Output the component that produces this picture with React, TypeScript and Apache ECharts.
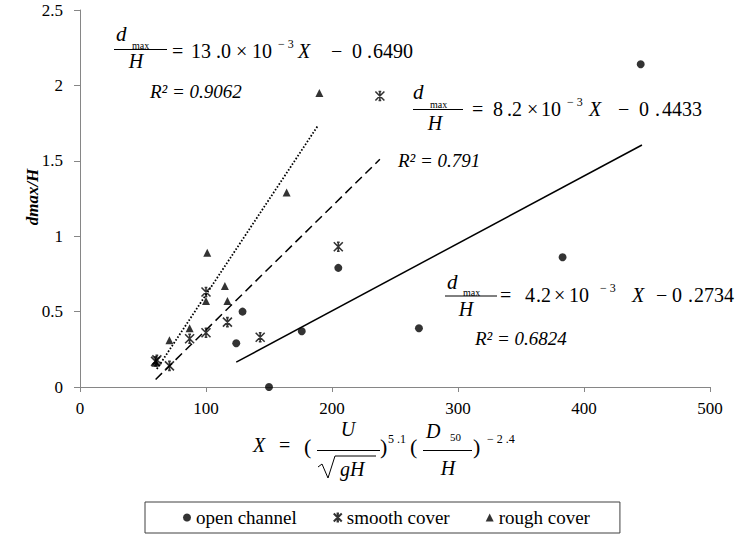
import React, { useEffect, useRef } from "react";
import * as echarts from "echarts";

// Measured points: X parameter vs. relative scour depth dmax/H
const openX = [124, 129, 150, 176, 205, 269, 383, 445];
const openY = [0.29, 0.5, 0.0, 0.37, 0.79, 0.39, 0.86, 2.14];

const smoothX = [60, 61, 71, 87, 100, 100, 117, 143, 205, 238];
const smoothY = [0.17, 0.18, 0.14, 0.32, 0.36, 0.63, 0.43, 0.33, 0.93, 1.93];

const roughX = [60, 71, 87, 100, 101, 115, 117, 164, 190];
const roughY = [0.16, 0.31, 0.39, 0.57, 0.89, 0.67, 0.57, 1.29, 1.95];

// Linear trend lines (end points over each data range)
const openFitX = [124, 446];
const openFitY = [0.165, 1.605];
const smoothFitX = [60, 238];
const smoothFitY = [0.05, 1.51];
const roughFitX = [61, 189];
const roughFitY = [0.12, 1.735];

const seriesNames = ["open channel", "smooth cover", "rough cover"];
const xTicks = { min: 0, max: 500, step: 100 };
const yTicks = { min: 0, max: 2.5, step: 0.5 };

const FONT = "Liberation Serif, Times New Roman, Times, serif";
const STAR = "path://M0,0L10,10M10,0L0,10M5,0L5,10M3.5,0L6.5,0M3.5,10L6.5,10";

const pairs = (xs: number[], ys: number[]) => xs.map((x, i) => [x, ys[i]]);

type TOpt = { italic?: boolean; bold?: boolean; align?: string; rot?: number };
const txt = (x: number, y: number, s: string, size: number, o: TOpt = {}) => ({
  type: "text",
  x,
  y,
  rotation: o.rot || 0,
  silent: true,
  style: {
    text: s,
    font: `${o.italic ? "italic " : ""}${o.bold ? "bold " : ""}${size}px ${FONT}`,
    fill: "#000",
    align: o.align || "left",
    verticalAlign: "middle",
    textAlign: o.align || "left",
    textVerticalAlign: "middle",
  },
});

const hline = (x1: number, x2: number, y: number) => ({
  type: "line",
  silent: true,
  shape: { x1, y1: y, x2, y2: y },
  style: { stroke: "#000", lineWidth: 1 },
});

// dmax/H = a × 10^-3 X − b, drawn as a stacked fraction
type EqPos = {
  dx: number; dy: number; subX: number; subY: number; barX1: number; barX2: number; barY: number;
  hX: number; hY: number; mainY: number; supY: number;
  xs: number[];
};
const equation = (p: EqPos, parts: string[]) => {
  const [eq, a1, a2, times, ten, sup, xv, minus, b1, b2, b3] = parts;
  const [xEq, xA1, xA2, xTimes, xTen, xSup, xX, xMinus, xB1, xB2, xB3] = p.xs;
  return [
    txt(p.dx, p.dy, "d", 21, { italic: true }),
    txt(p.subX, p.subY, "max", 10),
    hline(p.barX1, p.barX2, p.barY),
    txt(p.hX, p.hY, "H", 20, { italic: true, align: "center" }),
    txt(xEq, p.mainY, eq, 20),
    txt(xA1, p.mainY, a1, 20),
    txt(xA2, p.mainY, a2, 20),
    txt(xTimes, p.mainY, times, 20),
    txt(xTen, p.mainY, ten, 20),
    txt(xSup, p.supY, sup, 12),
    txt(xX, p.mainY, xv, 20, { italic: true }),
    txt(xMinus, p.mainY, minus, 20),
    txt(xB1, p.mainY, b1, 20),
    txt(xB2, p.mainY, b2, 20),
    txt(xB3, p.mainY, b3, 20),
  ];
};

const graphics = [
  // rough cover fit
  ...equation(
    { dx: 116, dy: 34, subX: 132, subY: 45, barX1: 114, barX2: 167, barY: 49.5, hX: 136, hY: 61, mainY: 51, supY: 44,
      xs: [172, 191, 216, 236, 252, 278, 298, 331, 352, 367, 373] },
    ["=", "13", ".0", "×", "10", "− 3", "X", "−", "0", ".", "6490"]
  ),
  txt(150, 91, "R² = 0.9062", 19, { italic: true }),
  // smooth cover fit
  ...equation(
    { dx: 413, dy: 92, subX: 430, subY: 104, barX1: 413, barX2: 463, barY: 109.5, hX: 435, hY: 123, mainY: 109, supY: 102,
      xs: [472, 493, 507, 527, 541, 567, 589, 618, 639, 655, 662] },
    ["=", "8", ".2", "×", "10", "− 3", "X", "−", "0", ".", "4433"]
  ),
  txt(398, 160, "R² = 0.791", 19, { italic: true }),
  // open channel fit
  ...equation(
    { dx: 447, dy: 282, subX: 463, subY: 292, barX1: 445, barX2: 497, barY: 296, hX: 466, hY: 309, mainY: 295, supY: 288,
      xs: [500, 525, 536, 554, 569, 600, 632, 656, 672, 688, 694] },
    ["=", "4", ".2", "×", "10", "− 3", "X", "−", "0", ".", "2734"]
  ),
  txt(475, 338, "R² = 0.6824", 19, { italic: true }),

  // y-axis title
  txt(32, 197, "dmax/H", 17, { italic: true, bold: true, align: "center", rot: Math.PI / 2 }),

  // x-axis title: X = (U/√gH)^5.1 (D50/H)^-2.4
  txt(253, 445, "X", 20, { italic: true }),
  txt(279, 445, "=", 20),
  txt(304, 446, "(", 22),
  txt(348, 429, "U", 20, { italic: true, align: "center" }),
  hline(317, 380, 450.5),
  {
    type: "polyline",
    silent: true,
    shape: { points: [[318, 467], [322, 464], [328, 478], [335, 456], [376, 456]] },
    style: { stroke: "#000", lineWidth: 1, fill: "none" },
  },
  txt(340, 469, "gH", 20, { italic: true }),
  txt(380, 446, ")", 22),
  txt(388, 439, "5 .1", 12),
  txt(410, 446, "(", 22),
  txt(426, 431, "D", 20, { italic: true }),
  txt(450, 437, "50", 11),
  hline(423, 472, 450.5),
  txt(448, 468, "H", 20, { italic: true, align: "center" }),
  txt(473, 446, ")", 22),
  txt(487, 439, "− 2 .4", 12),
];

const fitLine = (xs: number[], ys: number[], type: any, width: number) => ({
  type: "line",
  data: pairs(xs, ys),
  showSymbol: false,
  symbol: "none",
  silent: true,
  z: 2,
  lineStyle: { color: "#000", width, type, cap: "butt" },
});

const axisCommon = {
  type: "value",
  axisLine: { show: true, onZero: false, lineStyle: { color: "#868686", width: 1 } },
  axisTick: { show: true, inside: false, length: 5, lineStyle: { color: "#868686" } },
  splitLine: { show: false },
};

export default function App() {
  const ref = useRef<HTMLDivElement>(null);

  useEffect(() => {
    if (!ref.current) return;
    document.body.style.margin = "0";
    const chart = echarts.init(ref.current, undefined, { renderer: "svg" });
    chart.setOption({
      animation: false,
      backgroundColor: "#fff",
      textStyle: { fontFamily: FONT },
      grid: { left: 80, top: 10, width: 630, height: 377 },
      xAxis: {
        ...axisCommon,
        min: xTicks.min,
        max: xTicks.max,
        interval: xTicks.step,
        axisLabel: { color: "#000", fontFamily: FONT, fontSize: 17, margin: 13 },
      },
      yAxis: {
        ...axisCommon,
        min: yTicks.min,
        max: yTicks.max,
        interval: yTicks.step,
        axisTick: { show: true, inside: false, length: 6, lineStyle: { color: "#868686" } },
        axisLabel: { color: "#000", fontFamily: FONT, fontSize: 17, margin: 17 },
      },
      legend: {
        data: seriesNames,
        left: 145,
        top: 502,
        orient: "horizontal",
        itemWidth: 8,
        itemHeight: 8,
        itemGap: 36,
        padding: [6, 30, 6, 38],
        borderColor: "#404040",
        borderWidth: 1,
        borderRadius: 0,
        textStyle: { fontFamily: FONT, fontSize: 19, color: "#000" },
      },
      series: [
        {
          name: seriesNames[0],
          type: "scatter",
          symbol: "circle",
          symbolSize: 8,
          z: 3,
          itemStyle: { color: "#000" },
          data: pairs(openX, openY),
        },
        {
          name: seriesNames[1],
          type: "scatter",
          symbol: STAR,
          symbolSize: 9,
          z: 3,
          itemStyle: { color: "#000", borderColor: "#000", borderWidth: 1.6 },
          data: pairs(smoothX, smoothY),
        },
        {
          name: seriesNames[2],
          type: "scatter",
          symbol: "triangle",
          symbolSize: 8,
          z: 3,
          itemStyle: { color: "#000" },
          data: pairs(roughX, roughY),
        },
        fitLine(openFitX, openFitY, "solid", 1.5),
        fitLine(smoothFitX, smoothFitY, [9, 5], 1.5),
        fitLine(roughFitX, roughFitY, [1.6, 1.8], 1.8),
      ],
      graphic: graphics,
    });
    return () => chart.dispose();
  }, []);

  return <div ref={ref} style={{ width: 743, height: 537, background: "#fff" }} />;
}
